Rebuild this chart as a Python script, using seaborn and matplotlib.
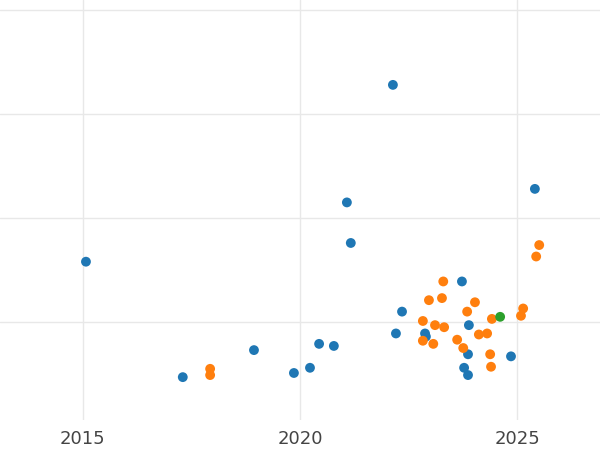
import matplotlib
matplotlib.use("Agg")
import matplotlib.pyplot as plt
import seaborn as sns
import pandas as pd

blue_x = [2015.07,2017.30,2018.94,2019.86,2020.23,2020.44,2020.78,2021.08,2021.17,2022.14,2022.21,2022.35,2022.88,2022.90,2023.73,2023.89,2023.78,2023.87,2023.87,2024.86,2025.41]
blue_y = [1.58,0.47,0.73,0.51,0.56,0.79,0.77,2.15,1.76,3.28,0.89,1.10,0.89,0.86,1.39,0.97,0.56,0.49,0.69,0.67,2.28]
orange_x = [2017.93,2017.93,2022.83,2022.83,2022.97,2023.07,2023.11,2023.27,2023.30,2023.32,2023.62,2023.76,2023.85,2024.03,2024.12,2024.31,2024.38,2024.40,2024.42,2025.09,2025.14,2025.44,2025.51]
orange_y = [0.55,0.49,1.01,0.82,1.21,0.79,0.97,1.23,1.39,0.95,0.83,0.75,1.10,1.19,0.88,0.89,0.69,0.57,1.03,1.06,1.13,1.63,1.74]
green_x = [2024.61]
green_y = [1.05]

df = pd.concat([
    pd.DataFrame({"x": blue_x, "y": blue_y, "g": "A"}),
    pd.DataFrame({"x": orange_x, "y": orange_y, "g": "B"}),
    pd.DataFrame({"x": green_x, "y": green_y, "g": "C"}),
])

sns.set_theme(style="whitegrid")
fig = plt.figure(figsize=(6, 4.5), dpi=100)
ax = fig.add_axes([0, 30/450, 1, 420/450])
sns.scatterplot(data=df, x="x", y="y", hue="g", palette=["#1f77b4", "#ff7f0e", "#2ca02c"],
                s=50, edgecolor="none", legend=False, ax=ax)
ax.set_xlim(2013.09, 2026.91)
ax.set_ylim(0.058, 4.096)
ax.set_xticks([2015, 2020, 2025])
ax.set_yticks([1, 2, 3, 4])
ax.set_yticklabels([])
ax.tick_params(axis="x", labelsize=13, colors="#444444", pad=1)
ax.set_xlabel("")
ax.set_ylabel("")
for s in ax.spines.values():
    s.set_visible(False)
ax.grid(color="#e8e8e8")
fig.savefig("out.png", dpi=100)
